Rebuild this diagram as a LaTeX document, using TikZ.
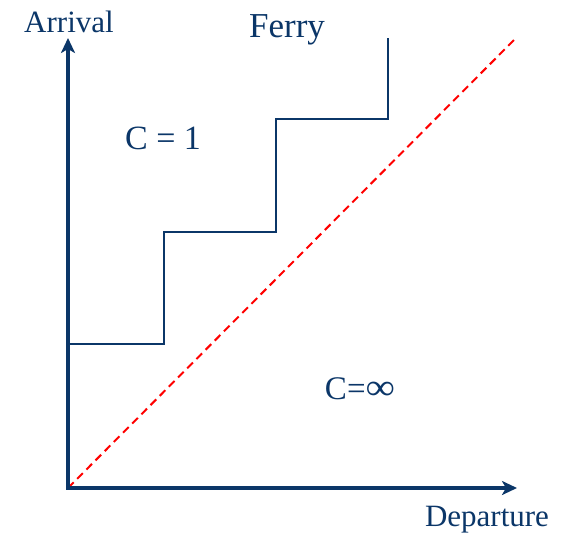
\documentclass[tikz,border=0pt]{standalone}
\usepackage{fontspec}
\setmainfont{Liberation Serif}
\usetikzlibrary{arrows.meta}
\definecolor{navy}{HTML}{0B3668}
\begin{document}
\begin{tikzpicture}[x=1pt,y=-1pt,
  axis/.style={draw=navy,line width=4pt,-{Stealth[length=15pt,width=14pt,inset=4pt]}},
  stair/.style={draw=navy,line width=2pt,line join=miter},
  diag/.style={draw=red,line width=2pt,dash pattern=on 8pt off 5pt},
  lbl/.style={text=navy,inner sep=0pt,anchor=base}]
\useasboundingbox (0,0) rectangle (567,536);
\coordinate (O) at (68,488);
\coordinate (ytop) at (68,38);
\coordinate (xend) at (517,488);
\coordinate (dend) at (515,39);
\coordinate (s0) at (68,344);
\coordinate (s1) at (164,344);
\coordinate (s2) at (164,232);
\coordinate (s3) at (276,232);
\coordinate (s4) at (276,119);
\coordinate (s5) at (388,119);
\coordinate (s6) at (388,38);
\draw[diag] (O) -- (dend);
\draw[stair] (s0) -- (s1) -- (s2) -- (s3) -- (s4) -- (s5) -- (s6);
\draw[axis] (O) -- (ytop);
\draw[axis] ([xshift=-2pt]O) -- (xend);
\node[lbl,font=\fontsize{31}{31}\selectfont] (arr) at (69,32) {Arrival};
\node[lbl,font=\fontsize{35}{35}\selectfont] (ferry) at (287,37) {Ferry};
\node[lbl,font=\fontsize{34}{34}\selectfont] (c1) at (163,149) {C = 1};
\node[lbl,font=\fontsize{33}{33}\selectfont] (cinf) at (360,399) {C=\scalebox{1.25}[1.1]{∞}};
\node[lbl,font=\fontsize{31}{31}\selectfont] (dep) at (487,526) {Departure};
\end{tikzpicture}
\end{document}
